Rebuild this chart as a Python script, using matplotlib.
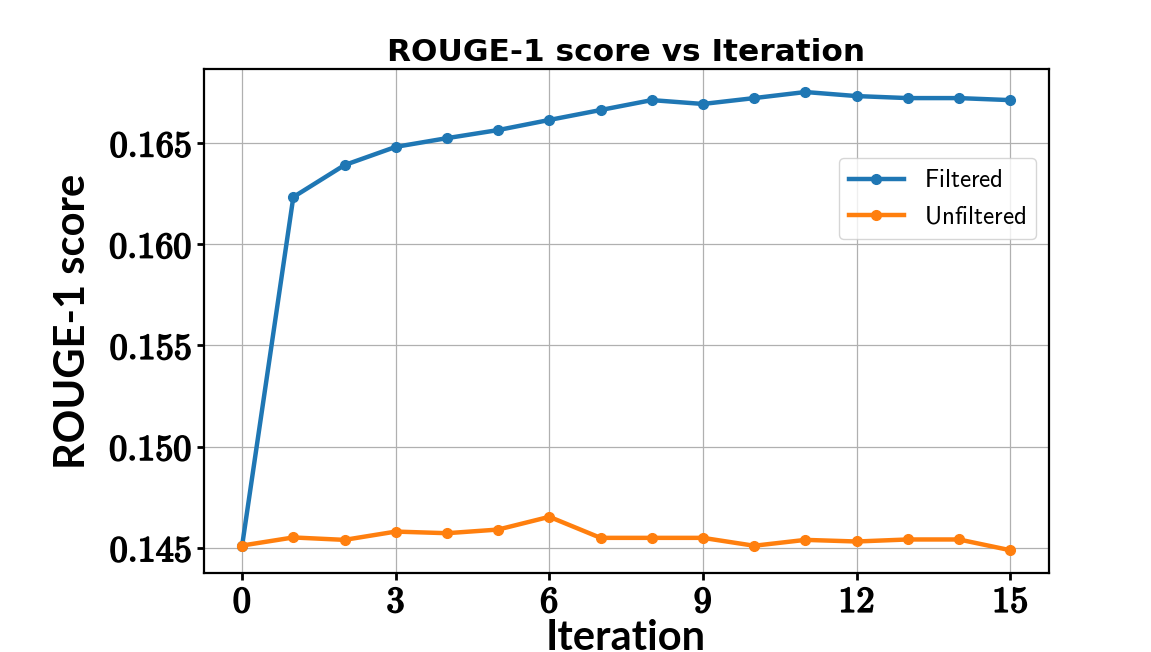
import numpy as np
import matplotlib.pyplot as plt
import matplotlib.patheffects as pe

plt.rcParams['mathtext.fontset'] = 'cm'

iterations = list(range(16))
filtered = [0.14511, 0.16233, 0.16391, 0.16481, 0.16524, 0.16564, 0.16614, 0.16663,
            0.16712, 0.16693, 0.16722, 0.16752, 0.16732, 0.16722, 0.16722, 0.16712]
unfiltered = [0.14511, 0.14551, 0.14539, 0.14580, 0.14572, 0.14590, 0.14653, 0.14549,
              0.14549, 0.14549, 0.14510, 0.14539, 0.14531, 0.14541, 0.14541, 0.14488]
xticks = [0, 3, 6, 9, 12, 15]
yticks = [0.145, 0.150, 0.155, 0.160, 0.165]

fig = plt.figure(figsize=(11.51, 6.52), dpi=100)
ax = fig.add_axes([0.177, 0.121, 0.734, 0.773])

ax.plot(iterations, filtered, '-o', color='#1f77b4', lw=3.2, ms=7, label=r'$\mathsf{Filtered}$')
ax.plot(iterations, unfiltered, '-o', color='#ff7f0e', lw=3.2, ms=7, label=r'$\mathsf{Unfiltered}$')

bold = [pe.withStroke(linewidth=1.2, foreground='black')]
ax.set_xticks(xticks)
ax.set_xticklabels([r'$\mathbf{%d}$' % t for t in xticks], fontsize=26, path_effects=bold)
ax.set_yticks(yticks)
ax.set_yticklabels([r'$\mathbf{%.3f}$' % t for t in yticks], fontsize=26, path_effects=bold)
ax.tick_params(width=2, length=5)
for s in ax.spines.values():
    s.set_linewidth(1.6)

ax.set_title('ROUGE-1 score vs Iteration', fontsize=22.5, fontweight='bold', pad=6)
ax.set_xlabel('Iteration', fontsize=30, fontweight='bold', family='Lato', labelpad=0)
ax.set_ylabel('ROUGE-1 score', fontsize=30, fontweight='bold', family='Lato', labelpad=12)
ax.grid(True, color='#b0b0b0', lw=0.9)

ax.legend(loc='upper right', bbox_to_anchor=(0.985, 0.823), borderaxespad=0,
          fontsize=18, handlelength=2.2)

fig.savefig('out.png', dpi=100)
